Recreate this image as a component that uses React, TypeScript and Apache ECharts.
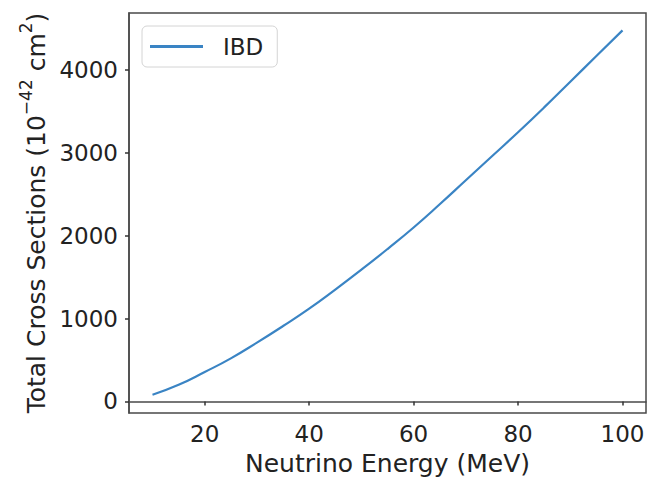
import React, { useEffect, useRef } from "react";
import * as echarts from "echarts";

const energies = [10, 15, 20, 25, 30, 35, 40, 45, 50, 55, 60, 65, 70, 75, 80, 85, 90, 95, 100];
const ibdCrossSections = [80, 200, 355, 520, 710, 910, 1120, 1350, 1590, 1840, 2100, 2380, 2670, 2960, 3250, 3550, 3860, 4170, 4480];
const xTicks = [20, 40, 60, 80, 100];
const yTicks = [0, 1000, 2000, 3000, 4000];
const seriesName = "IBD";
const xTitle = "Neutrino Energy (MeV)";
const yTitleParts = ["Total Cross Sections (10", "\u221242", " cm", "2", ")"];

export default function App() {
  const ref = useRef<HTMLDivElement>(null);
  useEffect(() => {
    if (!ref.current) return;
    const chart = echarts.init(ref.current, null, { renderer: "svg" });
    const font = "DejaVu Sans";
    const axisColor = "#4a4a4a";
    const textColor = "#222";
    const yTitle =
      `{m|${yTitleParts[0]}}{s|${yTitleParts[1]}}{m|${yTitleParts[2]}}{s|${yTitleParts[3]}}{m|${yTitleParts[4]}}`;
    chart.setOption({
      animation: false,
      backgroundColor: "#fff",
      grid: {
        left: 129,
        right: 3,
        top: 13,
        bottom: 63,
        show: true,
        borderColor: axisColor,
        borderWidth: 1.5,
      },
      legend: {
        left: 142,
        top: 26,
        orient: "horizontal",
        data: [{ name: seriesName }],
        icon: "rect",
        itemWidth: 53,
        itemHeight: 3,
        padding: [9, 14, 9, 8],
        backgroundColor: "#fff",
        borderColor: "#d4d4d4",
        borderWidth: 1,
        borderRadius: 5,
        textStyle: {
          fontFamily: font,
          fontSize: 23,
          color: textColor,
          padding: [0, 0, 0, 15],
        },
      },
      xAxis: {
        type: "value",
        min: 5.5,
        max: 104.5,
        name: xTitle,
        nameLocation: "middle",
        nameGap: 38,
        nameTextStyle: { fontFamily: font, fontSize: 25, color: textColor },
        splitLine: { show: false },
        axisLine: { show: true, lineStyle: { color: axisColor, width: 1.5 } },
        axisTick: {
          show: true,
          inside: false,
          length: 4,
          customValues: xTicks,
          lineStyle: { color: "#333", width: 1.5 },
        },
        axisLabel: {
          margin: 9,
          customValues: xTicks,
          formatter: (v: number) => String(v),
          fontFamily: font,
          fontSize: 23,
          color: textColor,
        },
      },
      yAxis: {
        type: "value",
        min: -140,
        max: 4690,
        name: yTitle,
        nameLocation: "middle",
        nameRotate: 90,
        nameGap: 77,
        nameTextStyle: {
          fontFamily: font,
          fontSize: 25,
          color: textColor,
          rich: {
            m: {
              fontFamily: font,
              fontSize: 25,
              lineHeight: 31,
              verticalAlign: "bottom",
              color: textColor,
            },
            s: {
              fontFamily: font,
              fontSize: 17,
              lineHeight: 17,
              verticalAlign: "top",
              color: textColor,
            },
          },
        },
        splitLine: { show: false },
        axisLine: { show: true, lineStyle: { color: axisColor, width: 1.5 } },
        axisTick: {
          show: true,
          inside: false,
          length: 4,
          customValues: yTicks,
          lineStyle: { color: "#333", width: 1.5 },
        },
        axisLabel: {
          margin: 11,
          customValues: yTicks,
          formatter: (v: number) => String(v),
          fontFamily: font,
          fontSize: 23,
          color: textColor,
        },
      },
      series: [
        {
          name: seriesName,
          type: "line",
          data: energies.map((e, i) => [e, ibdCrossSections[i]]),
          showSymbol: false,
          symbol: "none",
          smooth: true,
          lineStyle: { color: "#3a84c4", width: 2.2 },
          itemStyle: { color: "#3a84c4" },
        },
      ],
    });
    return () => chart.dispose();
  }, []);
  return (
    <div
      ref={ref}
      style={{ position: "fixed", left: 0, top: 0, width: 649, height: 481 }}
    />
  );
}
